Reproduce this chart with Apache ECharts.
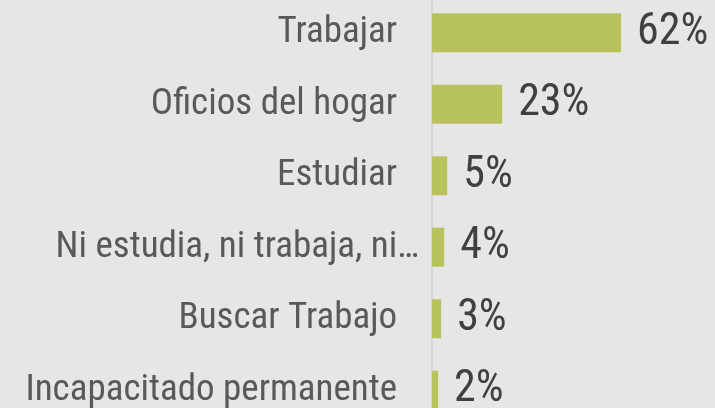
<!DOCTYPE html>
<html>
<head>
<meta charset="utf-8">
<script src="https://cdn.jsdelivr.net/npm/echarts@6/dist/echarts.min.js"></script>
<style>
html,body{margin:0;padding:0;background:#e6e6e6;}
#c{width:715px;height:408px;}
</style>
</head>
<body>
<div id="c"></div>
<script>
var categories = ["Trabajar", "Oficios del hogar", "Estudiar", "Ni estudia, ni trabaja, ni\u2026", "Buscar Trabajo", "Incapacitado permanente"];
var values = [62, 23, 5, 4, 3, 2];

var FONT = '"Roboto Condensed", "Liberation Sans Narrow", "Arial Narrow", Roboto, sans-serif';
var chart = echarts.init(document.getElementById('c'), null, {renderer: 'canvas'});
chart.setOption({
  backgroundColor: '#e6e6e6',
  animation: false,
  grid: {left: 432, top: -3, width: 305, height: 429, containLabel: false, outerBoundsMode: 'none'},
  xAxis: {
    type: 'value', min: 0, max: 100, show: false
  },
  yAxis: {
    type: 'category', inverse: true, data: categories,
    axisLine: {show: true, lineStyle: {color: '#d6d6d6', width: 2}},
    axisTick: {show: false},
    axisLabel: {
      color: '#595959', fontSize: 37, fontFamily: FONT, margin: 13,
      formatter: function (v) {
        return v.indexOf('\u2026') >= 0 ? '{t|' + v + '}' : '{n|' + v + '}';
      },
      rich: {
        t: {color: '#595959', fontSize: 37, fontFamily: FONT},
        n: {color: '#595959', fontSize: 37, fontFamily: FONT, padding: [0, 22, 0, 0]}
      }
    }
  },
  series: [{
    type: 'bar', data: values, barWidth: 39,
    itemStyle: {color: '#b9c35c'},
    label: {
      show: true, position: 'right', distance: 16,
      color: '#404040', fontSize: 44, fontFamily: FONT,
      formatter: function (p) { return p.value + '%'; }
    }
  }]
});
</script>
</body>
</html>
